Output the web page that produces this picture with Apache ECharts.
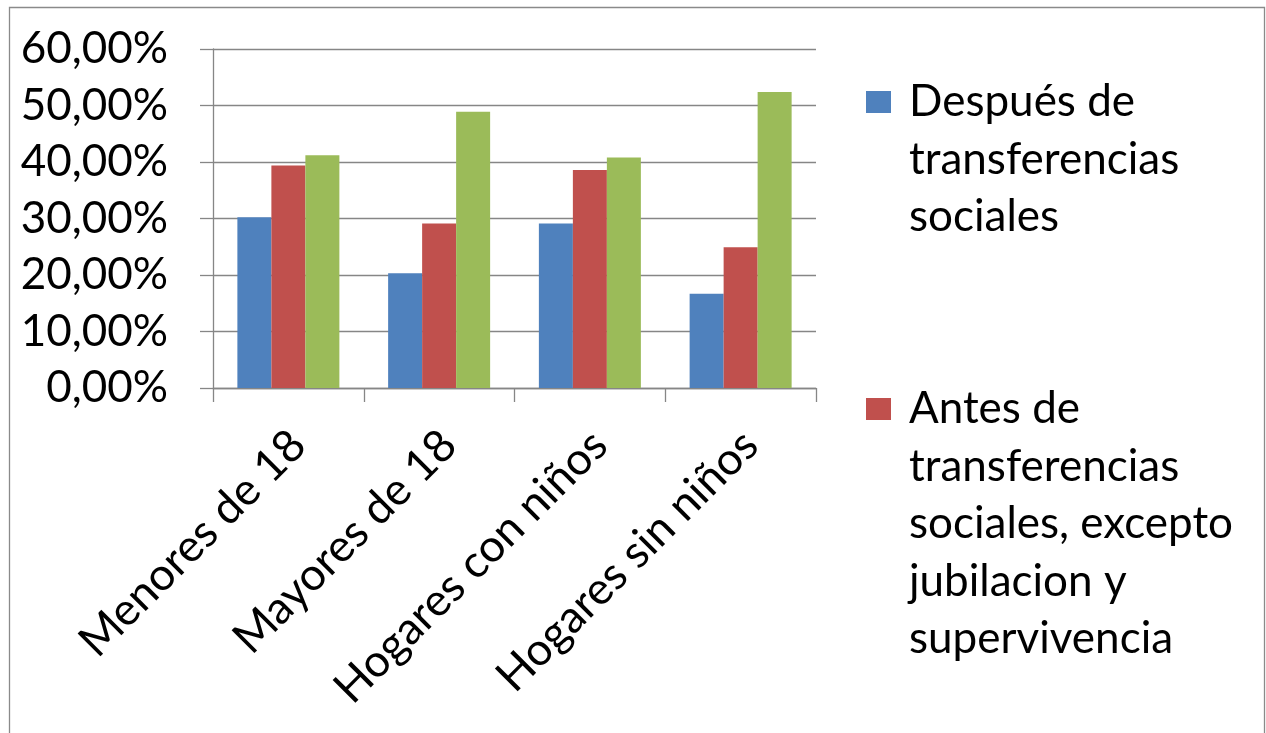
<!DOCTYPE html>
<html>
<head>
<meta charset="utf-8">
<script src="https://cdn.jsdelivr.net/npm/echarts@6/dist/echarts.min.js"></script>
<style>
html,body{margin:0;padding:0;background:#fff;}
#chart{width:1266px;height:733px;}
</style>
</head>
<body>
<div id="chart"></div>
<script>
// Data
var categories = ['Menores de 18', 'Mayores de 18', 'Hogares con niños', 'Hogares sin niños'];
var seriesNames = [
  'Después de\ntransferencias\nsociales',
  'Antes de\ntransferencias\nsociales, excepto\njubilacion y\nsupervivencia',
  'Antes de todas las transferencias sociales'
];
var despues = [30.2, 20.3, 29.1, 16.7];
var antesExcepto = [39.4, 29.1, 38.6, 24.9];
var antesTodas = [41.2, 48.9, 40.8, 52.4];
var yTicks = [0, 10, 20, 30, 40, 50, 60];

var FONT = 'Lato';
var FS = 44;
var LH = 57.5;
var axisGrey = '#868686';

var chart = echarts.init(document.getElementById('chart'), null, {renderer: 'canvas'});

// Legend item whose square sits beside the first line of a multi-line label
function legendFor(name, lines, firstLineCenterY, color) {
  var iconW = 25, sq = 22;
  var h = (lines - 1) * LH + sq;
  var iconPath = 'path://M0,0L' + iconW + ',0L' + iconW + ',' + sq + 'L0,' + sq + 'Z' +
                 'M0,' + h + 'L0.001,' + h + 'Z';
  var center = firstLineCenterY + (lines - 1) * LH / 2;
  var half = Math.max(lines * LH, h) / 2;
  return {
    show: true,
    orient: 'vertical',
    left: 866,
    top: center - half,
    padding: 0,
    itemWidth: iconW,
    itemHeight: h,
    icon: iconPath,
    selectedMode: false,
    data: [{name: name, icon: iconPath, itemStyle: {color: color}}],
    textStyle: {
      fontFamily: FONT,
      fontSize: FS,
      lineHeight: LH,
      color: '#000',
      padding: [0, 0, 0, 13]
    }
  };
}

var option = {
  animation: false,
  backgroundColor: '#fff',
  color: ['#4F81BD', '#C0504D', '#9BBB59'],
  textStyle: {fontFamily: FONT},
  graphic: [{
    type: 'rect',
    shape: {x: 9.5, y: 7.5, width: 1255, height: 760},
    style: {fill: 'none', stroke: '#8a8a8a', lineWidth: 1.3},
    silent: true,
    z: 100
  }],
  legend: [
    legendFor(seriesNames[0], 3, 102, '#4F81BD'),
    legendFor(seriesNames[1], 5, 409, '#C0504D')
  ],
  grid: {left: 213, right: 450, top: 49, bottom: 345, containLabel: false},
  xAxis: {
    type: 'category',
    data: categories,
    boundaryGap: true,
    axisLine: {show: true, lineStyle: {color: axisGrey, width: 1.3}},
    axisTick: {show: true, length: 14, interval: 0, alignWithLabel: false, lineStyle: {color: axisGrey, width: 1.3}},
    axisLabel: {
      interval: 0,
      rotate: 45,
      margin: 40,
      verticalAlign: 'top',
      lineHeight: 28,
      fontFamily: FONT,
      fontSize: 45,
      color: '#000'
    },
    splitLine: {show: false}
  },
  yAxis: {
    type: 'value',
    min: yTicks[0],
    max: yTicks[yTicks.length - 1],
    interval: 10,
    axisLine: {show: true, lineStyle: {color: axisGrey, width: 1.3}},
    axisTick: {show: true, length: 13, lineStyle: {color: axisGrey, width: 1.3}},
    axisLabel: {
      margin: 45,
      fontFamily: FONT,
      fontSize: FS,
      color: '#000',
      formatter: function (v) { return v.toFixed(2).replace('.', ',') + '%'; }
    },
    splitLine: {show: true, lineStyle: {color: axisGrey, width: 1.3}}
  },
  series: [
    {name: seriesNames[0], type: 'bar', data: despues, barWidth: 34, barGap: '0%'},
    {name: seriesNames[1], type: 'bar', data: antesExcepto, barWidth: 34, barGap: '0%'},
    {name: seriesNames[2], type: 'bar', data: antesTodas, barWidth: 34, barGap: '0%'}
  ]
};
chart.setOption(option);
</script>
</body>
</html>
